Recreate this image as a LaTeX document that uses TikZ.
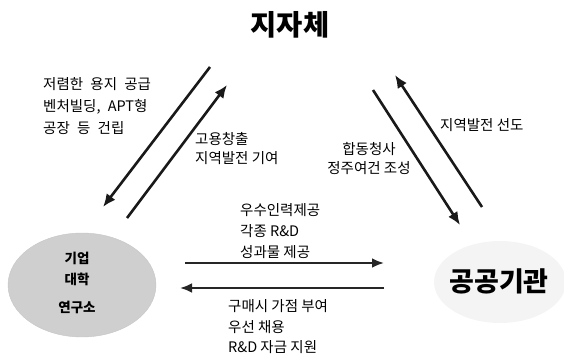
\documentclass[tikz,border=0pt]{standalone}
\usepackage{fontspec}
\newfontfamily\kr{Noto Sans CJK KR}
\newcommand\krsp{\hspace{0.5em}}
\usetikzlibrary{arrows.meta,shapes.geometric}
\begin{document}
\begin{tikzpicture}[x=1pt,y=-1pt,
  lbl/.style={font=\kr\fontsize{14.5}{21}\selectfont, align=left, inner sep=0pt, anchor=west},
  lblc/.style={font=\kr\fontsize{14.5}{20}\selectfont, align=center, inner sep=0pt},
  big/.style={font=\kr\bfseries\fontsize{28.5}{30}\selectfont, inner sep=0pt},
  small/.style={font=\kr\bfseries\fontsize{13.5}{15}\selectfont, inner sep=0pt},
  arr/.style={line width=2.6pt, draw=black!90, -{Latex[length=13pt,width=11pt]}},
  harr/.style={line width=2.4pt, draw=black!85, -{Latex[length=12pt,width=10pt]}},
]
\useasboundingbox (0,0) rectangle (564,358);

% bodies
\node[ellipse, fill=gray!38, draw=gray!45, minimum width=148pt, minimum height=104pt] (org) at (82,285) {};
\node[ellipse, fill=gray!9, minimum width=132pt, minimum height=82pt] (cloud) at (500,282) {};

% titles
\node[big] (gov) at (290,25) {지자체};
\node[big, font=\kr\bfseries\fontsize{27}{28}\selectfont] (pub) at (499,281) {공공기관};
\node[small] (k1) at (77,258) {기업};
\node[small] (k2) at (77,279) {대학};
\node[small] (k3) at (77,307) {연구소};

% labels
\node[lbl, font=\kr\fontsize{14.5}{22}\selectfont] (t1) at (43,106) {저렴한\krsp 용지\krsp 공급\\벤처빌딩,\krsp APT형\\공장\krsp 등\krsp 건립};
\node[lbl, font=\kr\fontsize{14.5}{19}\selectfont] (t2) at (195,149) {고용창출\\지역발전 기여};
\node[lblc, font=\kr\fontsize{14.5}{19}\selectfont] (t3) at (369,159) {합동청사\\정주여건 조성};
\node[lbl] (t4) at (440,125) {지역발전 선도};
\node[lbl] (t5) at (240,231) {우수인력제공\\각종 R\&D\\성과물 제공};
\node[lbl, font=\kr\fontsize{14.5}{20.5}\selectfont] (t6) at (228,327) {구매시 가점 부여\\우선 채용\\R\&D 자금 지원};

% arrow ends
\coordinate (a1s) at (210,67);
\coordinate (a1e) at (103,207);
\coordinate (a2s) at (127,218);
\coordinate (a2e) at (227,85);
\coordinate (a3s) at (373,90);
\coordinate (a3e) at (460,225);
\coordinate (a4s) at (482,207);
\coordinate (a4e) at (395,75);
\coordinate (a5s) at (185,263);
\coordinate (a5e) at (384,263);
\coordinate (a6s) at (384,288);
\coordinate (a6e) at (180,288);

\draw[arr] (a1s) -- (a1e);
\draw[arr] (a2s) -- (a2e);
\draw[arr] (a3s) -- (a3e);
\draw[arr] (a4s) -- (a4e);
\draw[harr] (a5s) -- (a5e);
\draw[harr] (a6s) -- (a6e);
\end{tikzpicture}
\end{document}
